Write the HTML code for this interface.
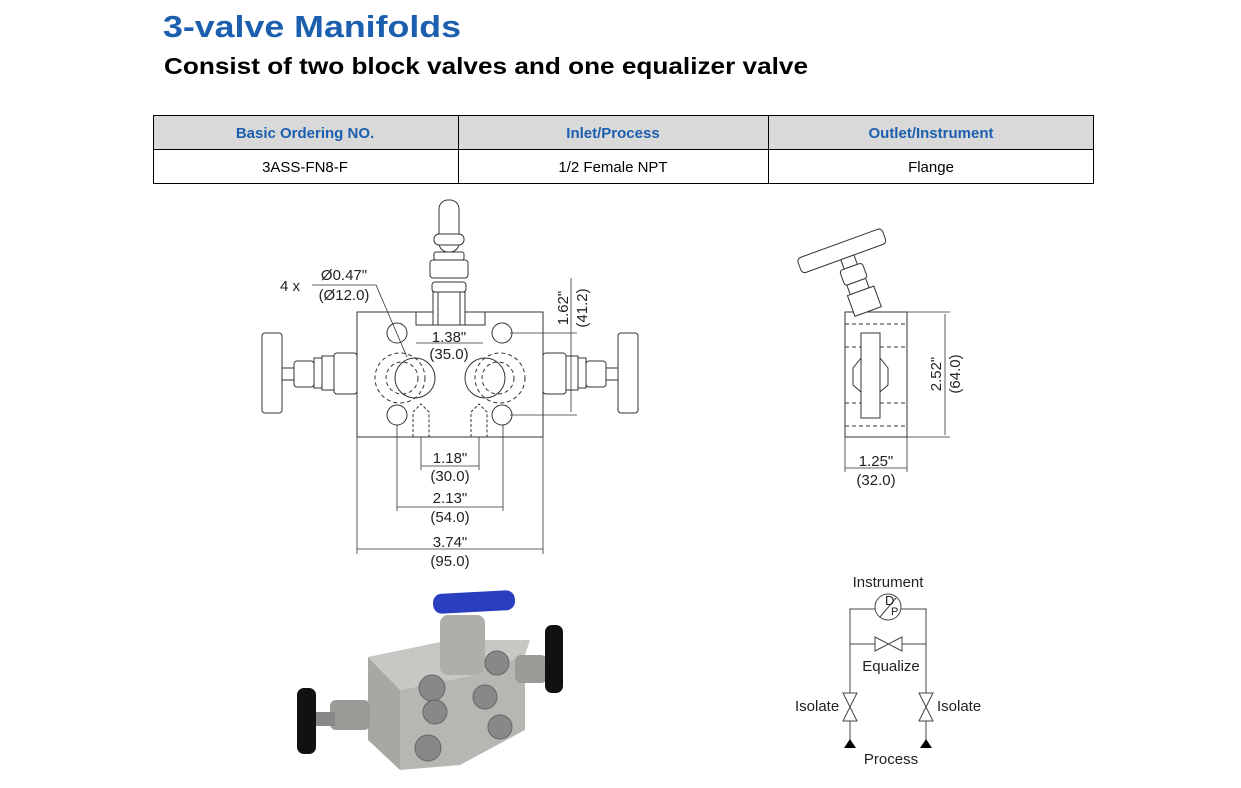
<!DOCTYPE html>
<html><head><meta charset="utf-8"><style>
html,body{margin:0;padding:0;background:#fff;}
svg{display:block;font-family:"Liberation Sans",sans-serif;}
</style></head><body>
<svg width="1241" height="788" viewBox="0 0 1241 788" xmlns="http://www.w3.org/2000/svg">
<text x="163" y="37" font-size="31" font-weight="bold" fill="#1c5fae" textLength="298" lengthAdjust="spacingAndGlyphs">3-valve Manifolds</text>
<text x="164" y="74" font-size="23" font-weight="bold" fill="#000" textLength="644" lengthAdjust="spacingAndGlyphs">Consist of two block valves and one equalizer valve</text>

<!-- table -->
<rect x="153" y="115" width="941" height="35" fill="#d9d9d9"/>
<rect x="153.5" y="115.5" width="940" height="68" fill="none" stroke="#000" stroke-width="1"/>
<line x1="153" y1="149.5" x2="1094" y2="149.5" stroke="#000"/>
<line x1="458.5" y1="115" x2="458.5" y2="184" stroke="#000"/>
<line x1="768.5" y1="115" x2="768.5" y2="184" stroke="#000"/>
<g font-size="15" font-weight="bold" fill="#1c5fae" text-anchor="middle">
<text x="305" y="138">Basic Ordering NO.</text>
<text x="613" y="138">Inlet/Process</text>
<text x="931" y="138">Outlet/Instrument</text>
</g>
<g font-size="15" fill="#000" text-anchor="middle">
<text x="305" y="172">3ASS-FN8-F</text>
<text x="613" y="172">1/2 Female NPT</text>
<text x="931" y="172">Flange</text>
</g>

<!-- front view -->
<g fill="none" stroke="#333" stroke-width="1">
<rect x="357" y="312" width="186" height="125" fill="#fff"/>
<path d="M416,312 V325 H485 V312"/>
<!-- top stem -->
<rect x="439" y="200" width="20" height="52" rx="9" fill="#fff"/>
<rect x="434" y="234" width="30" height="11" rx="5" fill="#fff"/>
<rect x="434" y="252" width="30" height="8" rx="2" fill="#fff"/>
<rect x="430" y="260" width="38" height="18" rx="3" fill="#fff"/>
<rect x="432" y="282" width="34" height="10" rx="3" fill="#fff"/>
<rect x="433" y="292" width="32" height="33" fill="#fff"/>
<line x1="438" y1="292" x2="438" y2="325"/><line x1="460" y1="292" x2="460" y2="325"/>
<!-- holes -->
<circle cx="397" cy="333" r="10"/><circle cx="502" cy="333" r="10"/>
<circle cx="397" cy="415" r="10"/><circle cx="502" cy="415" r="10"/>
<circle cx="415" cy="378" r="20"/><circle cx="485" cy="378" r="20"/>
<circle cx="400" cy="378" r="25" stroke-dasharray="4,3"/><circle cx="500" cy="378" r="25" stroke-dasharray="4,3"/>
<circle cx="402" cy="378" r="16" stroke-dasharray="4,3"/><circle cx="498" cy="378" r="16" stroke-dasharray="4,3"/>
<path d="M413,437 V412 L421,404 L429,412 V437" stroke-dasharray="3,2"/>
<path d="M471,437 V412 L479,404 L487,412 V437" stroke-dasharray="3,2"/>
<!-- left valve -->
<rect x="262" y="333" width="20" height="80" rx="3" fill="#fff"/>
<rect x="282" y="368" width="12" height="12"/>
<rect x="294" y="361" width="20" height="26" rx="3" fill="#fff"/>
<rect x="314" y="358" width="8" height="30" fill="#fff"/>
<rect x="322" y="356" width="12" height="34" fill="#fff"/>
<rect x="334" y="353" width="23" height="41" rx="3" fill="#fff"/>
<!-- right valve -->
<rect x="618" y="333" width="20" height="80" rx="3" fill="#fff"/>
<rect x="606" y="368" width="12" height="12"/>
<rect x="586" y="361" width="20" height="26" rx="3" fill="#fff"/>
<rect x="578" y="358" width="8" height="30" fill="#fff"/>
<rect x="566" y="356" width="12" height="34" fill="#fff"/>
<rect x="543" y="353" width="23" height="41" rx="3" fill="#fff"/>
</g>
<g stroke="#333" stroke-width="0.8" fill="none">
<path d="M312,285 H376 L407,357"/>
<line x1="416" y1="343" x2="483" y2="343"/>
<line x1="510" y1="333" x2="577" y2="333"/><line x1="510" y1="415" x2="577" y2="415"/>
<line x1="571" y1="278" x2="571" y2="412"/>
<line x1="421" y1="437" x2="421" y2="470"/><line x1="479" y1="437" x2="479" y2="470"/>
<line x1="421" y1="466" x2="479" y2="466"/>
<line x1="397" y1="425" x2="397" y2="511"/><line x1="503" y1="425" x2="503" y2="511"/>
<line x1="397" y1="507" x2="503" y2="507"/>
<line x1="357" y1="437" x2="357" y2="554"/><line x1="543" y1="437" x2="543" y2="554"/>
<line x1="357" y1="549" x2="543" y2="549"/>
</g>
<g font-size="15" fill="#222" text-anchor="middle">
<text x="290" y="291">4 x</text>
<text x="344" y="280">Ø0.47"</text>
<text x="344" y="300">(Ø12.0)</text>
<text x="449" y="342">1.38"</text>
<text x="449" y="359">(35.0)</text>
<text x="450" y="463">1.18"</text>
<text x="450" y="481">(30.0)</text>
<text x="450" y="503">2.13"</text>
<text x="450" y="522">(54.0)</text>
<text x="450" y="547">3.74"</text>
<text x="450" y="566">(95.0)</text>
<text transform="translate(568,308) rotate(-90)">1.62"</text>
<text transform="translate(587,308) rotate(-90)">(41.2)</text>
</g>

<!-- side view -->
<g fill="none" stroke="#333" stroke-width="1">
<rect x="845" y="312" width="62" height="125" fill="#fff"/>
<line x1="845" y1="324" x2="907" y2="324" stroke-dasharray="4,3"/>
<line x1="845" y1="347" x2="907" y2="347" stroke-dasharray="4,3"/>
<line x1="845" y1="403" x2="907" y2="403" stroke-dasharray="4,3"/>
<line x1="845" y1="426" x2="907" y2="426" stroke-dasharray="4,3"/>
<rect x="861" y="333" width="19" height="85" fill="#fff"/>
<path d="M861,358 L853,368 V385 L861,392"/>
<path d="M880,358 L888,368 V385 L880,392"/>
<g transform="rotate(-20 850 250)">
<rect x="797" y="240" width="90" height="16" rx="4" fill="#fff"/>
<rect x="838" y="256" width="14" height="10" fill="#fff"/>
<rect x="833" y="266" width="24" height="16" rx="3" fill="#fff"/>
<rect x="835" y="282" width="20" height="10" fill="#fff"/>
<rect x="832" y="292" width="28" height="22" fill="#fff"/>
</g>
<line x1="907" y1="312" x2="950" y2="312" stroke-width="0.8"/>
<line x1="907" y1="437" x2="950" y2="437" stroke-width="0.8"/>
<line x1="945" y1="314" x2="945" y2="435" stroke-width="0.8"/>
<line x1="845" y1="437" x2="845" y2="472" stroke-width="0.8"/>
<line x1="907" y1="437" x2="907" y2="472" stroke-width="0.8"/>
<line x1="845" y1="468" x2="907" y2="468" stroke-width="0.8"/>
</g>
<g font-size="15" fill="#222" text-anchor="middle">
<text x="876" y="466">1.25"</text>
<text x="876" y="485">(32.0)</text>
<text transform="translate(941,374) rotate(-90)">2.52"</text>
<text transform="translate(960,374) rotate(-90)">(64.0)</text>
</g>

<!-- photo approximation -->
<g>
<polygon points="368,657 450,640 530,640 525,655 470,676 400,690" fill="#c9c7c4"/>
<polygon points="368,657 400,690 400,770 368,740" fill="#a9a7a4"/>
<polygon points="400,690 470,676 525,655 525,730 460,765 400,770" fill="#b8b6b3"/>
<rect x="440" y="615" width="45" height="60" rx="8" fill="#b0aeab"/>
<rect x="433" y="592" width="82" height="20" rx="9" fill="#2a3fc0" transform="rotate(-3 474 602)"/>
<rect x="330" y="700" width="40" height="30" rx="6" fill="#9c9a97"/>
<rect x="315" y="712" width="20" height="14" fill="#888"/>
<rect x="297" y="688" width="19" height="66" rx="7" fill="#111"/>
<rect x="515" y="655" width="32" height="28" rx="6" fill="#9c9a97"/>
<rect x="545" y="625" width="18" height="68" rx="7" fill="#111"/>
<g fill="#888" stroke="#666">
<circle cx="432" cy="688" r="13"/><circle cx="497" cy="663" r="12"/>
<circle cx="435" cy="712" r="12"/><circle cx="485" cy="697" r="12"/>
<circle cx="500" cy="727" r="12"/><circle cx="428" cy="748" r="13"/>
</g>
</g>

<!-- schematic -->
<g fill="none" stroke="#444" stroke-width="1">
<path d="M850,742 V609 H875 M901,609 H926 V742"/>
<circle cx="888" cy="607" r="13"/>
<line x1="880" y1="617" x2="896" y2="598"/>
<path d="M850,644 H875 M902,644 H926"/>
<polygon points="875,637 875,651 902,637 902,651"/>
<polygon points="843,693 857,693 843,721 857,721" fill="#fff"/>
<polygon points="919,693 933,693 919,721 933,721" fill="#fff"/>
</g>
<polygon points="844,748 856,748 850,739" fill="#000"/>
<polygon points="920,748 932,748 926,739" fill="#000"/>
<g font-size="15" fill="#222">
<text x="888" y="587" text-anchor="middle">Instrument</text>
<text x="885" y="605" font-size="13">D</text>
<text x="891" y="615" font-size="11">P</text>
<text x="891" y="671" text-anchor="middle">Equalize</text>
<text x="795" y="711">Isolate</text>
<text x="937" y="711">Isolate</text>
<text x="891" y="764" text-anchor="middle">Process</text>
</g>
</svg>
</body></html>
